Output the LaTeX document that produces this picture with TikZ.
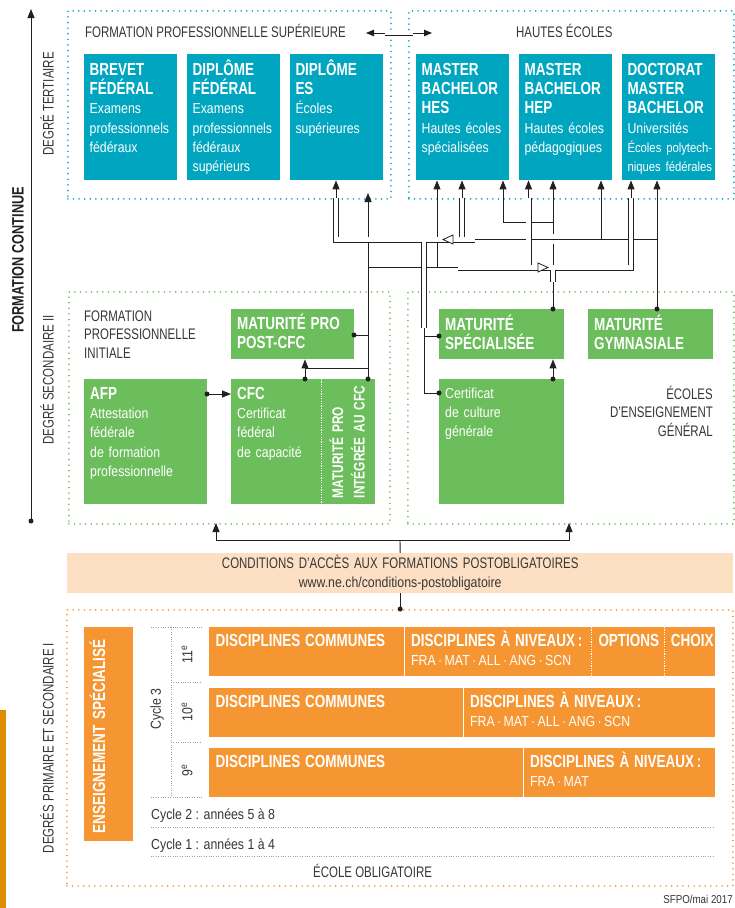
\documentclass[tikz,border=0pt]{standalone}
\usepackage{fontspec}
\setmainfont{Liberation Sans}[FakeStretch=0.85]
\newfontfamily\boldfam{Liberation Sans}[FakeStretch=0.77]
\newfontfamily\capsfam{Liberation Sans}[FakeStretch=0.75]
\usepackage{tikz}
\usetikzlibrary{arrows.meta,positioning,calc}
\definecolor{TCYAN}{RGB}{0,166,192}
\definecolor{SGREEN}{RGB}{108,190,92}
\definecolor{OORANGE}{RGB}{246,150,51}
\definecolor{PEACH}{RGB}{253,223,196}
\definecolor{DORANGE}{RGB}{222,140,0}
\definecolor{TXTGRAY}{RGB}{55,55,55}
\definecolor{LNBLACK}{RGB}{35,31,32}
\newcommand{\TTLFONT}{\boldfam\bfseries\fontsize{17.5}{19.3}\selectfont}
\newcommand{\BODYFONT}{\normalfont\fontsize{14.5}{19.3}\selectfont}
\newcommand{\CAPSFONT}{\capsfam\fontsize{15.3}{18.8}\selectfont}
\tikzstyle{ARROW} = [draw=LNBLACK, line width=0.9pt, -{Triangle[length=9pt,width=7pt]}]
\tikzstyle{ARROW_BOTH} = [draw=LNBLACK, line width=0.9pt, {Triangle[length=8pt,width=6.5pt]}-{Triangle[length=8pt,width=6.5pt]}]
\tikzstyle{LINE} = [draw=LNBLACK, line width=0.9pt]
\tikzstyle{PIPE_OUT} = [draw=LNBLACK, line width=6pt]
\tikzstyle{PIPE_IN} = [draw=white, line width=4.2pt]
\tikzstyle{DOT} = [circle, fill=LNBLACK, inner sep=0pt, minimum size=5pt]
\begin{document}
\begin{tikzpicture}[x=1pt, y=-1pt, node distance=9.5pt]
% Define
\tikzstyle{AREA_T} = [rectangle, draw=TCYAN, line width=1.8pt, line cap=round, dash pattern=on 0pt off 5.6pt, anchor=north west, inner sep=0pt]
\tikzstyle{AREA_S} = [AREA_T, draw=SGREEN]
\tikzstyle{AREA_O} = [AREA_T, draw=OORANGE]
\tikzstyle{BOX_T} = [rectangle, fill=TCYAN, text=white, font=\BODYFONT, align=left, anchor=north west, text width=82pt, inner xsep=5.5pt, inner ysep=0pt, text height=21pt, text depth=105pt]
\tikzstyle{BOX_G} = [rectangle, fill=SGREEN, text=white, font=\BODYFONT, align=left, anchor=north west, inner xsep=6pt, inner ysep=0pt, text height=20pt]
\tikzstyle{BOX_O} = [rectangle, fill=OORANGE, text=white, font=\BODYFONT, align=left, anchor=north west, inner xsep=6.5pt, inner ysep=0pt, text height=19pt, text depth=30pt]
\tikzstyle{TITLE} = [text=TXTGRAY, font=\CAPSFONT, inner sep=0pt]
\tikzstyle{SMALL} = [text=TXTGRAY, font=\BODYFONT, inner sep=0pt]
\tikzstyle{SEP_W} = [draw=white, line width=1.2pt, dash pattern=on 1.2pt off 1.2pt]
\tikzstyle{GRID} = [draw=gray!75, line width=0.8pt, dash pattern=on 0.8pt off 1.6pt]
\path[use as bounding box, fill=white] (0,0) rectangle (734,908);
% Areas
\node [AREA_T, minimum width=323pt, minimum height=188pt] (fps) at (67,10) {};
\node [AREA_T, minimum width=325pt, minimum height=188pt] (he) at (408,10) {};
\node [AREA_S, minimum width=321pt, minimum height=232pt] (fpi) at (68,291) {};
\node [AREA_S, minimum width=326pt, minimum height=232pt] (eeg) at (407,291) {};
\node [AREA_O, minimum width=666pt, minimum height=276pt] (eo) at (66,609) {};
\fill [DORANGE] (0,710) rectangle (6,908);
% Labels
\node [rotate=90, font=\boldfam\bfseries\fontsize{16.5}{19}\selectfont, text=LNBLACK, inner sep=0pt] (fc_lbl) at (18,260) {FORMATION CONTINUE};
\node [TITLE, rotate=90] (ter_lbl) at (47,104) {DEGRÉ TERTIAIRE};
\node [TITLE, rotate=90] (sec_lbl) at (47,380) {DEGRÉ SECONDAIRE II};
\node [TITLE, rotate=90] (obl_lbl) at (47,748) {DEGRÉS PRIMAIRE ET SECONDAIRE I};
\node [TITLE, anchor=base west] (fps_lbl) at (85,37) {FORMATION PROFESSIONNELLE SUPÉRIEURE};
\node [TITLE, anchor=base west] (he_lbl) at (516,37) {HAUTES ÉCOLES};
\node [TITLE, anchor=base west, align=left, text width=150pt] (fpi_lbl) at (84,321) {FORMATION\\PROFESSIONNELLE\\INITIALE};
\node [TITLE, anchor=base east, align=right, text width=150pt] (eeg_lbl) at (713,399) {ÉCOLES\\D’ENSEIGNEMENT\\GÉNÉRAL};
\node [TITLE, anchor=base west] (eo_lbl) at (313,877) {ÉCOLE OBLIGATOIRE};
\node [SMALL, anchor=base east, font=\normalfont\fontsize{11.5}{13}\selectfont] (src_lbl) at (733,903) {SFPO/mai 2017};
% Place nodes: tertiaire
\node [BOX_T] (bf) at (84,54) {\TTLFONT BREVET\\FÉDÉRAL\\\BODYFONT Examens\\professionnels\\fédéraux};
\node [BOX_T, right=of bf] (df) {\TTLFONT DIPLÔME\\FÉDÉRAL\\\BODYFONT Examens\\professionnels\\fédéraux\\supérieurs};
\node [BOX_T, right=of df] (es) {\TTLFONT DIPLÔME\\ES\\\BODYFONT Écoles\\supérieures};
\node [BOX_T] (hes) at (416,54) {\TTLFONT MASTER\\BACHELOR\\HES\\\BODYFONT Hautes~écoles\\spécialisées};
\node [BOX_T, right=of hes] (hep) {\TTLFONT MASTER\\BACHELOR\\HEP\\\BODYFONT Hautes~écoles\\pédagogiques};
\node [BOX_T, right=of hep] (doc) {\TTLFONT DOCTORAT\\MASTER\\BACHELOR\\\BODYFONT Universités\\\mbox{\fontsize{13.3}{19.3}\selectfont Écoles polytech-}\\\mbox{\fontsize{13.3}{19.3}\selectfont niques fédérales}};
% Place nodes: secondaire II
\node [BOX_G, text width=111pt, text depth=30pt] (mpp) at (231,309) {\TTLFONT MATURITÉ PRO\\POST-CFC};
\node [BOX_G, text width=111pt, text depth=105pt] (afp) at (84,379) {\TTLFONT AFP\\\BODYFONT Attestation\\fédérale\\de formation\\professionnelle};
\node [BOX_G, text width=78pt, text depth=105pt] (cfc) at (231,379) {\TTLFONT CFC\\\BODYFONT Certificat\\fédéral\\de capacité};
\node [BOX_G, rotate=90, anchor=north east, text width=113pt, text height=22pt, text depth=32pt, font=\boldfam\bfseries\fontsize{15.4}{21.5}\selectfont] (mpi) at (321,379) {\mbox{MATURITÉ PRO}\\\mbox{INTÉGRÉE AU CFC}};
\node [BOX_G, text width=113pt, text height=21pt, text depth=29pt] (ms) at (439,309) {\TTLFONT MATURITÉ\\SPÉCIALISÉE};
\node [BOX_G, text width=113pt, text height=19pt, text depth=106pt] (ccg) at (439,379) {Certificat\\de culture\\générale};
\node [BOX_G, text width=113pt, text height=21pt, text depth=29pt] (mg) at (588,309) {\TTLFONT MATURITÉ\\GYMNASIALE};
\draw [SEP_W] (cfc.north east) -- (cfc.south east);
% Place nodes: conditions
\node [rectangle, fill=PEACH, anchor=north west, text width=656pt, inner xsep=5pt, inner ysep=0pt, minimum height=40pt, align=center, text=TXTGRAY, font=\BODYFONT] (cond) at (67,553) {\CAPSFONT CONDITIONS D’ACCÈS AUX FORMATIONS POSTOBLIGATOIRES\\\BODYFONT www.ne.ch/conditions-postobligatoire};
% Place nodes: ecole obligatoire
\node [BOX_O, rotate=90, anchor=north east, text width=198pt, inner xsep=8pt, text height=21pt, text depth=28pt, font=\TTLFONT] (ens_spec) at (84,627) {ENSEIGNEMENT SPÉCIALISÉ};
\node [BOX_O, text width=182pt] (c11_com) at (209,627) {\TTLFONT DISCIPLINES COMMUNES};
\node [BOX_O, text width=174pt, right=0pt of c11_com] (c11_niv) {\TTLFONT DISCIPLINES~À~NIVEAUX\,:\\\BODYFONT FRA\,·\,MAT\,·\,ALL\,·\,ANG\,·\,SCN};
\node [BOX_O, text width=59pt, right=0pt of c11_niv] (c11_opt) {\TTLFONT OPTIONS};
\node [BOX_O, text width=38pt, right=0pt of c11_opt] (c11_cho) {\TTLFONT CHOIX};
\node [BOX_O, text width=241pt] (c10_com) at (209,688) {\TTLFONT DISCIPLINES COMMUNES};
\node [BOX_O, text width=238pt, right=0pt of c10_com] (c10_niv) {\TTLFONT DISCIPLINES~À~NIVEAUX\,:\\\BODYFONT FRA\,·\,MAT\,·\,ALL\,·\,ANG\,·\,SCN};
\node [BOX_O, text width=301pt] (c9_com) at (209,748) {\TTLFONT DISCIPLINES COMMUNES};
\node [BOX_O, text width=178pt, right=0pt of c9_com] (c9_niv) {\TTLFONT DISCIPLINES~À~NIVEAUX\,:\\\BODYFONT FRA\,·\,MAT};
\draw [SEP_W] (c11_com.north east) -- (c11_com.south east);
\draw [SEP_W] (c11_niv.north east) -- (c11_niv.south east);
\draw [SEP_W] (c11_opt.north east) -- (c11_opt.south east);
\draw [SEP_W] (c10_com.north east) -- (c10_com.south east);
\draw [SEP_W] (c9_com.north east) -- (c9_com.south east);
\node [SMALL, rotate=90] (cyc3) at (157,709) {Cycle 3};
\node [SMALL, rotate=90] (y11) at (187,654) {11\textsuperscript{e}};
\node [SMALL, rotate=90] (y10) at (187,712) {10\textsuperscript{e}};
\node [SMALL, rotate=90] (y9) at (187,770) {9\textsuperscript{e}};
\node [SMALL, anchor=base west] (cyc2) at (151,819) {Cycle 2 : années 5 à 8};
\node [SMALL, anchor=base west] (cyc1) at (151,849) {Cycle 1 : années 1 à 4};
\draw [GRID] (151,627) -- (202,627);
\draw [GRID] (171,627) -- (171,797);
\draw [GRID] (171,682) -- (202,682);
\draw [GRID] (171,742) -- (202,742);
\draw [GRID] (151,797) -- (202,797);
\draw [GRID] (151,827) -- (714,827);
\draw [GRID] (151,856) -- (714,856);
% Points
\coordinate (axis_bot) at (31,521);
\coordinate (axis_top) at (31,9);
\coordinate (fps_he_l) at (366,33);
\coordinate (fps_he_r) at (432,33);
\coordinate (afp_out) at (207,394);
\coordinate (cfc_top) at (305,379);
\coordinate (mpi_top) at (368,379);
\coordinate (mpp_out) at (354,335);
\coordinate (j_cfc) at (305,368);
\coordinate (j_mpi) at (368,368);
\coordinate (fps_in) at (368,193);
\coordinate (ms_top) at (553,309);
\coordinate (ccg_top) at (553,379);
\coordinate (ms_in) at (439,336);
\coordinate (ccg_in) at (439,393);
\coordinate (mg_top) at (657,309);
\coordinate (p1_es) at (336,198);
\coordinate (p1_end) at (475,239.5);
\coordinate (p1_ecg) at (424,239.5);
\coordinate (p1_ecg_bot) at (424,328);
\coordinate (p1_hes) at (462,239.5);
\coordinate (p1_hes_top) at (462,198);
\coordinate (p2_start) at (458,267.5);
\coordinate (p2_doc) at (631,198);
\coordinate (p2_hep) at (528.5,267.5);
\coordinate (p2_hep_top) at (528.5,198);
\coordinate (p2_ms) at (553,267.5);
\coordinate (p2_ms_bot) at (553,282);
\coordinate (hes_a1) at (437,267.5);
\coordinate (hop_lo) at (553,244);
\coordinate (hop_hi) at (553,234);
\coordinate (j_hep2) at (553,222);
\coordinate (hes_j3) at (503,222);
\coordinate (s6_l) at (470,239.5);
\coordinate (hep_a3) at (601,239.5);
\coordinate (cond_split) at (400,540);
\coordinate (fpi_in) at (216,523);
\coordinate (eeg_in) at (569,523);
% LINES and ARROWS
\draw [ARROW] (axis_bot) -- (axis_top);
\draw [ARROW_BOTH] (fps_he_l) -- (fps_he_r);
\draw [PIPE_OUT, line width=5pt] (385,33) -- (413,33);
\draw [PIPE_IN, line width=3.4pt] (385,33) -- (413,33);
\draw [ARROW] (afp_out) -- (afp_out -| cfc.west);
\draw [ARROW] (cfc_top) -- (cfc_top |- mpp.south);
\draw [LINE] (j_cfc) -- (j_mpi);
\draw [LINE] (mpp_out) -- (mpp_out -| mpi_top);
\draw [ARROW] (mpi_top) -- (fps_in);
\draw [LINE] (mpi_top |- p2_start) -- (p2_start);
\draw [ARROW] (hes_a1) -- (hes_a1 |- hes.south);
\draw [ARROW] (p1_es) -- (p1_es |- es.south);
\draw [ARROW] (p1_hes_top) -- (p1_hes_top |- hes.south);
\draw [ARROW] (p2_hep_top) -- (p2_hep_top |- hep.south);
\draw [ARROW] (p2_doc) -- (p2_doc |- doc.south);
\draw [LINE] (ccg_in) -| (p1_ecg_bot);
\draw [LINE] (ms_in) -- (ms_in -| p1_ecg_bot);
\draw [ARROW] (ccg_top) -- (ccg_top |- ms.south);
\draw [LINE] (ms_top) -- (hop_lo);
\draw [ARROW] (hop_hi) -- (hop_hi |- hep.south);
\draw [ARROW] (j_hep2) -- (hes_j3) -- (hes_j3 |- hes.south);
\draw [LINE] (s6_l) -- (mg_top |- p1_end);
\draw [ARROW] (hep_a3) -- (hep_a3 |- hep.south);
\draw [ARROW] (mg_top) -- (mg_top |- doc.south);
\draw [PIPE_OUT] (p1_es) |- (p1_end) (p1_ecg) -- (p1_ecg_bot) (p1_hes) -- (p1_hes_top) (p2_start) -| (p2_doc) (p2_hep) -- (p2_hep_top) (p2_ms) -- (p2_ms_bot);
\draw [PIPE_IN] (p1_es) |- (p1_end) (p1_ecg) -- (p1_ecg_bot) (p1_hes) -- (p1_hes_top) (p2_start) -| (p2_doc) (p2_hep) -- (p2_hep_top) (p2_ms) -- (p2_ms_bot);
\draw [LINE, fill=white, line width=0.8pt] (453,235) -- (443,239.5) -- (453,244) -- cycle;
\draw [LINE, fill=white, line width=0.8pt] (538,263) -- (548,267.5) -- (538,272) -- cycle;
\draw [LINE] (cond.north) -- (cond_split);
\draw [ARROW] (cond_split) -| (fpi_in);
\draw [ARROW] (cond_split) -| (eeg_in);
\draw [LINE] (cond.south) -- (cond.south |- eo.north);
% Dots
\node [DOT] (d_axis) at (axis_bot) {};
\node [DOT] (d_afp) at (afp_out) {};
\node [DOT] (d_cfc) at (cfc_top) {};
\node [DOT] (d_mpi) at (mpi_top) {};
\node [DOT] (d_mpp) at (mpp_out) {};
\node [DOT] (d_ms) at (ms_top) {};
\node [DOT] (d_ccg) at (ccg_top) {};
\node [DOT] (d_msin) at (ms_in) {};
\node [DOT] (d_ccgin) at (ccg_in) {};
\node [DOT] (d_mg) at (mg_top) {};
\node [DOT] (d_eo) at (cond.south |- eo.north) {};
\end{tikzpicture}
\end{document}
